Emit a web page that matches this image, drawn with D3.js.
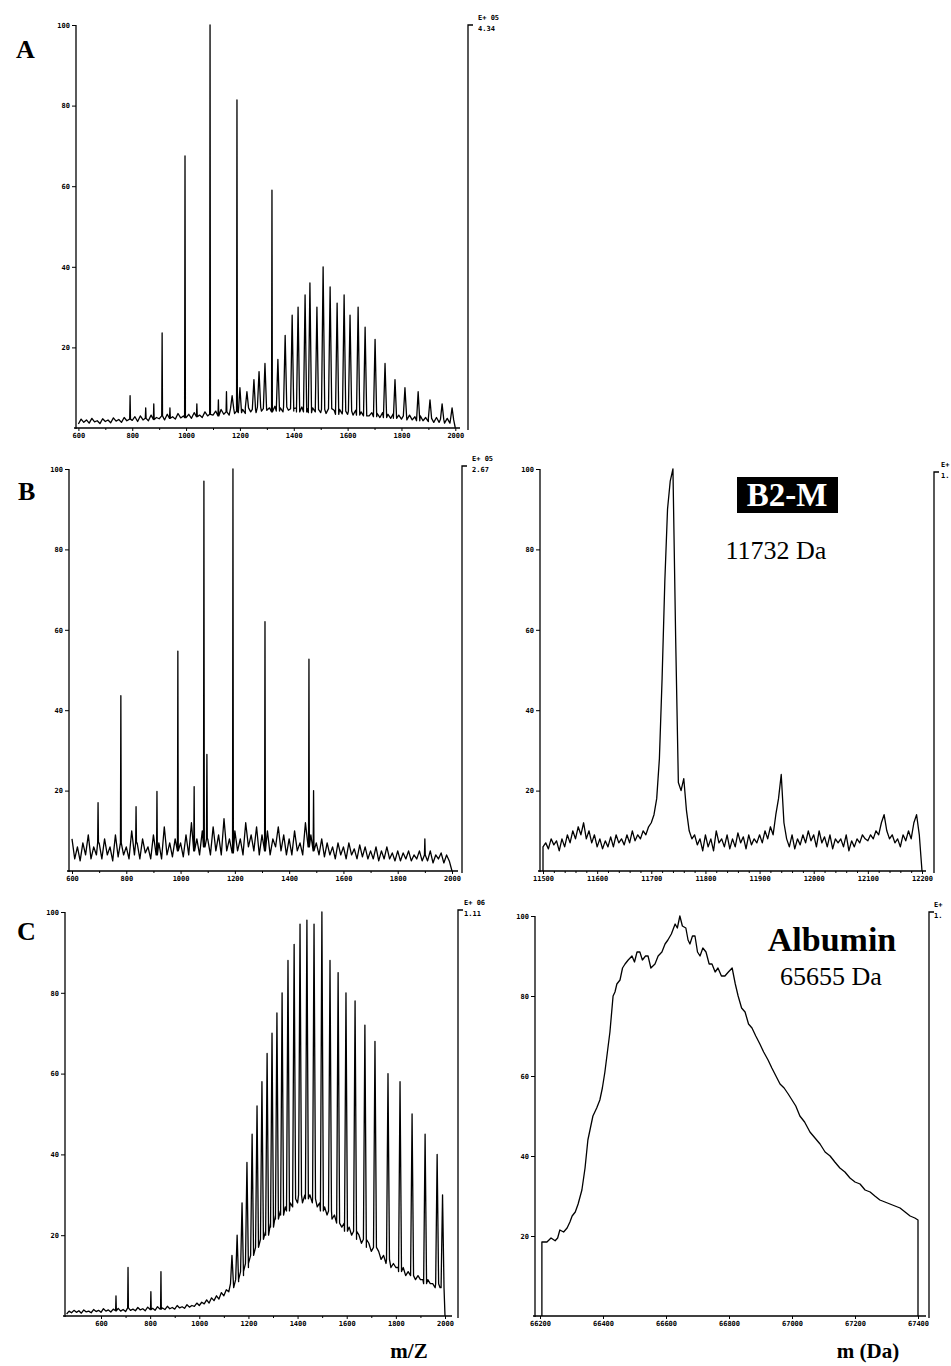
<!DOCTYPE html>
<html>
<head>
<meta charset="utf-8">
<script src="https://cdn.jsdelivr.net/npm/d3@7"></script>
<style>
body { margin: 0; background: #fff; }
svg { display: block; }
.tick text { font-family: "DejaVu Sans Mono", monospace; font-size: 7px; font-weight: bold; fill: #000; }
.tick line { stroke: #000; stroke-width: 1; }
.trace { fill: none; stroke: #000; stroke-width: 1.3; stroke-linejoin: round; }
.frame { fill: none; stroke: #000; stroke-width: 1.3; }
.scale { font-family: "DejaVu Sans Mono", monospace; font-size: 7px; font-weight: bold; }
</style>
</head>
<body>
<svg id="chart" width="951" height="1366"></svg>
<script>
// common y ticks (relative intensity, %)
var yTicks = [20, 40, 60, 80, 100];
var mzTicks = [600, 800, 1000, 1200, 1400, 1600, 1800, 2000];
var mzMinor = [700, 900, 1100, 1300, 1500, 1700, 1900];

// panel A, m/z spectrum: baseline read every 10 m/z from 600
var aBaseStart = 600, aBaseStep = 10;
var aBase = [
    1.0, 2.2, 1.4, 2.0, 1.2, 2.4, 1.5, 1.8, 1.1, 2.3,
    1.6, 2.0, 1.3, 2.5, 1.7, 2.1, 1.4, 2.6, 1.8, 2.2,
    1.9, 2.8, 1.6, 3.0, 2.0, 2.4, 1.8, 3.2, 2.1, 2.6,
    2.3, 3.0, 2.0, 3.4, 2.4, 2.8, 2.2, 3.6, 2.5, 3.0,
    2.6, 3.4, 2.4, 3.8, 2.8, 3.2, 2.6, 4.0, 3.0, 3.4,
    3.2, 4.2, 3.0, 4.6, 3.4, 4.0, 3.2, 4.8, 3.6, 4.2,
    3.8, 4.6, 3.6, 5.0, 4.0, 4.6, 3.8, 5.2, 4.2, 4.8,
    4.4, 5.0, 4.0, 5.4, 4.2, 5.0, 4.0, 5.2, 4.4, 4.8,
    4.2, 5.0, 4.0, 5.2, 4.0, 4.8, 3.8, 5.0, 4.0, 4.6,
    3.8, 4.6, 3.6, 4.8, 3.6, 4.4, 3.4, 4.6, 3.5, 4.2,
    3.4, 4.2, 3.2, 4.4, 3.2, 4.0, 3.0, 4.2, 3.0, 3.8,
    2.8, 3.6, 2.6, 3.8, 2.6, 3.4, 2.4, 3.6, 2.4, 3.2,
    2.2, 3.0, 2.0, 3.2, 2.0, 2.8, 1.8, 3.0, 1.8, 2.6,
    1.6, 2.4, 1.4, 2.6, 1.4, 2.2, 1.2, 2.4, 1.2, 2.0,
    0
];
// sharp lines [m/z, %]
var aSticks = [[792, 8], [850, 5], [880, 6], [911, 23.6], [940, 5], [996, 67.5],
    [1040, 6], [1089, 100], [1120, 7], [1150, 9], [1189, 81.4], [1319, 59]];
// charge envelope peaks [m/z, %]
var aEnvelope = [[1171, 8], [1200, 10], [1226, 9], [1252, 12], [1271, 14], [1293, 16],
    [1341, 17], [1368, 23], [1394, 28], [1416, 30], [1442, 33], [1460, 36], [1486, 30],
    [1509, 40], [1535, 35], [1561, 31], [1587, 33], [1609, 28], [1639, 30], [1665, 25],
    [1702, 22], [1739, 16], [1776, 12], [1813, 10], [1862, 9], [1906, 7], [1951, 6], [1988, 5]];

// panel B left, m/z spectrum
var bBaseStart = 600, bBaseStep = 10;
var bBase = [
    8, 3, 6, 2.5, 7, 4, 9, 3, 6, 4,
    7, 3, 8, 4, 6, 2.5, 9, 3.5, 7, 4,
    6, 3, 10, 4, 7, 3, 8, 4.5, 6, 3,
    9, 4, 7, 3, 11, 4, 7, 3.5, 8, 5,
    7, 3.5, 9, 4, 12, 5, 8, 4, 10, 6,
    8, 4, 11, 5, 9, 4, 13, 5, 8, 4.5,
    10, 5, 8, 4, 12, 6, 9, 5, 11, 4,
    9, 5, 10, 4, 8, 6, 11, 5, 9, 4,
    8, 4, 10, 5, 7, 4, 12, 6, 9, 5,
    7, 4, 8, 3.5, 7, 4, 6, 3, 7, 4,
    6, 3, 7, 4, 5.5, 3, 6.5, 3.5, 6, 3,
    5, 3, 6, 2.5, 5, 3, 6, 3, 4.5, 2.5,
    5, 2.5, 4.5, 3, 5, 2.5, 4, 3, 5, 2.5,
    4, 2.5, 5, 2, 4, 3, 4.5, 2, 4, 2.5,
    0
];
var bSticks = [[696, 17], [780, 43.6], [836, 16], [913, 19.8], [990, 54.7], [1050, 21],
    [1086, 97], [1097, 29], [1193, 100], [1311, 62], [1473, 52.7], [1490, 20], [1900, 8]];

// panel B right, deconvoluted mass, read every 5 Da from 11500
var brStart = 11500, brStep = 5;
var brVals = [
    6, 7, 5.5, 8, 6.5, 7.5, 5, 8, 6, 9,
    7, 10, 8, 11, 9, 12, 8, 10, 7, 9,
    6, 8, 5.5, 7.5, 6, 8.5, 6, 9, 7, 8,
    6.5, 9, 7, 10, 7.5, 9, 8, 10, 9, 11,
    12, 14, 18, 28, 48, 72, 90, 97, 100, 58,
    22, 20, 23, 15, 10, 8, 9, 6.5, 8, 5,
    9, 6, 8, 5, 10, 7, 8, 6, 9, 5.5,
    8, 6, 9.5, 7, 8.5, 5.5, 9, 6.5, 8, 7,
    9, 7, 10, 8, 11, 9, 14, 18, 24, 12,
    8, 6, 9, 5.5, 8, 6.5, 9, 7, 10, 7.5,
    9, 6, 10, 7, 8.5, 6, 9, 5.5, 8, 7,
    8, 6, 9, 5, 7.5, 6, 8, 7, 9, 8,
    7.5, 9, 8, 10, 9, 12, 14, 10, 8, 9,
    7, 8, 6, 9, 7.5, 10, 8, 12, 14, 9,
    0
];
var brTicks = [11500, 11600, 11700, 11800, 11900, 12000, 12100, 12200];
var brMinor = [11520, 11540, 11560, 11580, 11620, 11640, 11660, 11680, 11720, 11740, 11760, 11780,
    11820, 11840, 11860, 11880, 11920, 11940, 11960, 11980, 12020, 12040, 12060, 12080,
    12120, 12140, 12160, 12180];

// panel C left, m/z spectrum, read every 10 m/z from 460
var cBaseStart = 460, cBaseStep = 10;
var cBase = [
    0.5, 1.2, 0.8, 1.4, 0.9, 1.3, 0.7, 1.5, 1.0, 1.2,
    0.8, 1.6, 1.1, 1.4, 0.9, 1.8, 1.2, 1.5, 1.0, 1.7,
    1.3, 1.9, 1.2, 1.6, 1.1, 2.0, 1.4, 1.7, 1.3, 2.1,
    1.5, 1.8, 1.3, 2.2, 1.6, 1.9, 1.4, 2.3, 1.7, 2.0,
    1.6, 2.4, 1.8, 2.1, 1.7, 2.6, 2.0, 2.3, 1.9, 2.8,
    2.2, 2.6, 2.4, 3.2, 2.6, 3.4, 3.0, 4.0, 3.2, 4.5,
    3.8, 5.0, 4.2, 5.8, 5.0, 6.5, 6.0, 8.0, 7.0, 9.0,
    8.5, 11, 10, 13, 12, 15, 14, 17, 16, 19,
    18, 21, 20, 23, 22, 25, 24, 26, 25, 27,
    26, 28, 27, 29, 28, 30, 28, 30, 29, 30,
    28, 29, 27, 28, 26, 27, 25, 26, 24, 25,
    23, 24, 22, 23, 21, 22, 20, 21, 19, 20,
    18, 19, 17, 18, 16, 17, 15, 16, 14, 15,
    13, 14, 12, 13, 12, 12, 11, 12, 10, 11,
    10, 10, 9, 10, 9, 9, 8, 9, 8, 8,
    7, 8, 7, 7, 0
];
var cSticks = [[661, 5], [710, 12], [803, 6], [844, 11]];
var cEnvelope = [[1133, 15], [1154, 20], [1174, 28], [1194, 38], [1215, 45], [1235, 52],
    [1255, 58], [1276, 65], [1296, 70], [1316, 75], [1337, 80], [1361, 88], [1386, 92],
    [1410, 97], [1438, 98], [1467, 97], [1499, 100], [1532, 88], [1565, 85], [1597, 80],
    [1634, 78], [1674, 72], [1715, 68], [1768, 60], [1817, 58], [1866, 50], [1919, 45],
    [1968, 40], [1990, 30]];

// panel C right, deconvoluted mass [Da, %]
var crMass = [66206, 66206, 66222, 66235, 66248, 66256, 66263, 66275, 66286, 66295, 66302,
    66312, 66321, 66333, 66343, 66352, 66360, 66368, 66380, 66390, 66398, 66406, 66414,
    66422, 66432, 66438, 66444, 66454, 66462, 66470, 66480, 66492, 66500, 66508, 66517,
    66525, 66535, 66543, 66552, 66565, 66575, 66587, 66597, 66606, 66617, 66629, 66636,
    66644, 66652, 66663, 66670, 66676, 66684, 66692, 66700, 66708, 66717, 66727, 66737,
    66746, 66756, 66765, 66776, 66787, 66798, 66810, 66820, 66829, 66840, 66851, 66862,
    66873, 66885, 66898, 66910, 66924, 66936, 66949, 66962, 66975, 66988, 67000, 67012,
    67025, 67040, 67057, 67073, 67089, 67105, 67121, 67136, 67152, 67168, 67184, 67200,
    67216, 67232, 67248, 67263, 67279, 67295, 67311, 67327, 67343, 67359, 67375, 67390,
    67400, 67400];
var crInt = [0, 18.5, 18.5, 19.5, 18.8, 19.5, 21.5, 21, 22, 23.5, 25,
    26, 28, 31.5, 37, 44, 47, 50, 52, 54, 57, 61, 66,
    71, 80, 81, 83, 84, 87, 88, 89, 90, 88.5, 91, 91,
    89, 90, 90, 87, 88, 90, 91, 93, 94, 95.5, 98, 97,
    100, 97.5, 97, 94, 93, 95, 95, 91, 90, 92, 91, 88,
    88, 86, 87, 85, 85, 86, 87, 83, 80, 77, 76, 73,
    72, 70, 68, 66, 64, 62, 60, 58, 57, 55.5, 54, 52.5,
    50, 48.5, 46, 44.5, 43, 41, 40, 38.5, 37, 36, 34.5, 33.5,
    33, 31.5, 31, 30, 29, 28.5, 28, 27.5, 27, 26, 25, 24.5,
    24, 0];
var crTicks = [66200, 66400, 66600, 66800, 67000, 67200, 67400];

var svg = d3.select("#chart");

function gridPoints(start, step, vals) {
    return vals.map(function(v, i) { return [start + i * step, v]; });
}

function addPeaks(pts, peaks, hw) {
    // take out grid points under each peak, put the peak in as foot - top - foot
    var out = pts.filter(function(p) {
        return !peaks.some(function(k) { return Math.abs(p[0] - k[0]) < hw; });
    });
    peaks.forEach(function(k) {
        var near = d3.least(pts, function(p) { return Math.abs(p[0] - k[0]); });
        out.push([k[0] - hw, near[1]], [k[0], k[1]], [k[0] + hw, near[1]]);
    });
    return out.sort(function(a, b) { return a[0] - b[0]; });
}

function drawPanel(p) {
    var g = svg.append("g");
    var x = d3.scaleLinear().domain(p.xDomain).range(p.xRange);
    var y = d3.scaleLinear().domain([0, 100]).range([p.bottom, p.top]);

    // left axis
    g.append("g")
        .attr("transform", "translate(" + p.left + ",0)")
        .call(d3.axisLeft(y).tickValues(yTicks).tickSize(4).tickSizeOuter(0).tickPadding(2))
        .call(function(a) { a.select(".domain").remove(); });
    g.append("line").attr("class", "frame")
        .attr("x1", p.left).attr("x2", p.left)
        .attr("y1", p.top).attr("y2", p.bottom + 1);

    // bottom axis
    g.append("g")
        .attr("transform", "translate(0," + p.bottom + ")")
        .call(d3.axisBottom(x).tickValues(p.xTicks).tickSize(3).tickPadding(2).tickFormat(d3.format("d")))
        .call(function(a) { a.select(".domain").remove(); });
    if (p.minor) {
        g.append("g")
            .attr("transform", "translate(0," + p.bottom + ")")
            .call(d3.axisBottom(x).tickValues(p.minor).tickSize(2).tickFormat(""))
            .call(function(a) { a.select(".domain").remove(); });
    }
    g.append("line").attr("class", "frame")
        .attr("x1", p.left - 2).attr("x2", p.lineEnd)
        .attr("y1", p.bottom).attr("y2", p.bottom);

    // right scale bracket
    g.append("path").attr("class", "frame")
        .attr("d", "M" + p.bx + "," + (p.bottom + 2) + "V" + p.btop + "h5");
    g.append("text").attr("class", "scale")
        .attr("x", p.bx + p.lx).attr("y", p.btop - 5).text(p.exp);
    g.append("text").attr("class", "scale")
        .attr("x", p.bx + p.lx).attr("y", p.btop + 6).text(p.mant);

    // spectrum
    var line = d3.line()
        .x(function(d) { return x(d[0]); })
        .y(function(d) { return y(d[1]); });
    g.append("path").datum(p.trace).attr("class", "trace").attr("d", line);
}

var aTrace = addPeaks(addPeaks(gridPoints(aBaseStart, aBaseStep, aBase), aSticks, 1.5), aEnvelope, 6);
var bTrace = addPeaks(gridPoints(bBaseStart, bBaseStep, bBase), bSticks, 1.5);
var brTrace = gridPoints(brStart, brStep, brVals);
brTrace.unshift([brStart, 0]);
var cTrace = addPeaks(addPeaks(gridPoints(cBaseStart, cBaseStep, cBase), cSticks, 1.5), cEnvelope, 6);
var crTrace = crMass.map(function(m, i) { return [m, crInt[i]]; });

drawPanel({ trace: aTrace, xDomain: [600, 2000], xRange: [78.4, 455.3], xTicks: mzTicks, minor: mzMinor,
    left: 76, bottom: 428, top: 25, lineEnd: 460, bx: 468, btop: 25, lx: 10, exp: "E+ 05", mant: "4.34" });
drawPanel({ trace: bTrace, xDomain: [600, 2000], xRange: [72, 452], xTicks: mzTicks, minor: mzMinor,
    left: 69, bottom: 871, top: 469, lineEnd: 458, bx: 462, btop: 466, lx: 10, exp: "E+ 05", mant: "2.67" });
drawPanel({ trace: brTrace, xDomain: [11500, 12200], xRange: [543, 922], xTicks: brTicks, minor: brMinor,
    left: 540, bottom: 871, top: 469, lineEnd: 926, bx: 934, btop: 472, lx: 7, exp: "E+", mant: "1." });
drawPanel({ trace: cTrace, xDomain: [600, 2000], xRange: [101, 445], xTicks: mzTicks, minor: mzMinor,
    left: 65, bottom: 1316, top: 912, lineEnd: 452, bx: 458, btop: 910, lx: 6, exp: "E+ 06", mant: "1.11" });
drawPanel({ trace: crTrace, xDomain: [66200, 67400], xRange: [540, 918], xTicks: crTicks,
    left: 535, bottom: 1316, top: 916, lineEnd: 926, bx: 929, btop: 912, lx: 5, exp: "E+", mant: "1." });

// panel letters and annotations
var serif = "'Liberation Serif', 'Times New Roman', serif";
[["A", 16, 58], ["B", 18, 500], ["C", 17, 940]].forEach(function(t) {
    svg.append("text").attr("x", t[1]).attr("y", t[2])
        .style("font-family", serif).style("font-weight", "bold").style("font-size", "26px")
        .text(t[0]);
});

svg.append("rect").attr("x", 737).attr("y", 477).attr("width", 101).attr("height", 36).attr("fill", "#000");
svg.append("text").attr("x", 787).attr("y", 506).attr("text-anchor", "middle")
    .style("font-family", serif).style("font-weight", "bold").style("font-size", "33px").style("fill", "#fff")
    .text("B2-M");
svg.append("text").attr("x", 776).attr("y", 559).attr("text-anchor", "middle")
    .style("font-family", serif).style("font-size", "26px").text("11732 Da");

svg.append("text").attr("x", 832).attr("y", 951).attr("text-anchor", "middle")
    .style("font-family", serif).style("font-weight", "bold").style("font-size", "34px").text("Albumin");
svg.append("text").attr("x", 831).attr("y", 985).attr("text-anchor", "middle")
    .style("font-family", serif).style("font-size", "26px").text("65655 Da");

svg.append("text").attr("x", 409).attr("y", 1358).attr("text-anchor", "middle")
    .style("font-family", serif).style("font-weight", "bold").style("font-size", "21px").text("m/Z");
svg.append("text").attr("x", 868).attr("y", 1358).attr("text-anchor", "middle")
    .style("font-family", serif).style("font-weight", "bold").style("font-size", "21px").text("m (Da)");
</script>
</body>
</html>
